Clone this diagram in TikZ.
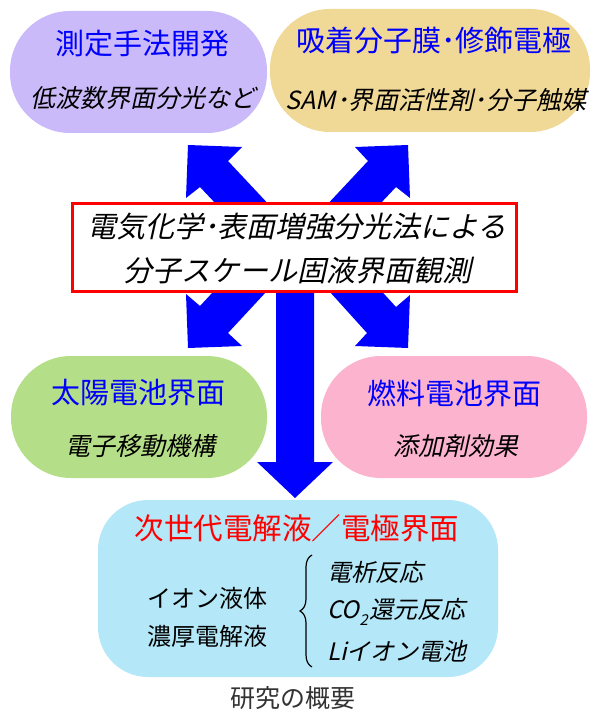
\documentclass[tikz,border=0pt]{standalone}
\usepackage{fontspec}
\setmainfont{Noto Sans CJK JP}
\newfontfamily\jp{Noto Sans CJK JP}
\newfontfamily\jpit[FakeSlant=0.22]{Noto Sans CJK JP}
\usetikzlibrary{decorations.pathreplacing}
\definecolor{cpurple}{HTML}{CBBAF9}
\definecolor{ctan}{HTML}{F0D896}
\definecolor{cgreen}{HTML}{B5DE88}
\definecolor{cpink}{HTML}{FBB3CE}
\definecolor{clblue}{HTML}{B4E7F7}
\definecolor{cblue}{HTML}{0000FF}
\definecolor{cred}{HTML}{FF0000}
\definecolor{ccap}{HTML}{333333}
\tikzset{
  pill/.style={draw=none, inner sep=0pt, rounded corners=60pt},
  ttl/.style={inner sep=0pt, font=\jp\fontsize{29}{31}\selectfont, text=cblue},
  subt/.style={inner sep=0pt, font=\jpit\fontsize{25}{27}\selectfont, text=black},
  body/.style={inner sep=0pt, font=\jp\fontsize{24}{26}\selectfont, text=black, anchor=west},
  itm/.style={inner sep=0pt, font=\jpit\fontsize{24}{26}\selectfont, text=black, anchor=west},
  barrow/.style={fill=cblue, draw=none},
}
\begin{document}
\begin{tikzpicture}[x=1pt,y=-1pt]
\useasboundingbox (0,0) rectangle (594,711);
% arrows
\fill[barrow] (188,145) -- (242,147) -- (228,161) -- (302,240) -- (250,240) -- (200,187) -- (186,198) -- cycle;
\fill[barrow] (408,145) -- (410,198) -- (396,187) -- (346,240) -- (294,240) -- (368,161) -- (355,147) -- cycle;
\fill[barrow] (188,348) -- (186,294) -- (200,306) -- (252,250) -- (305,250) -- (228,333) -- (242,346) -- cycle;
\fill[barrow] (408,348) -- (410,295) -- (396,307) -- (344,250) -- (292,250) -- (367,333) -- (355,346) -- cycle;
\fill[barrow] (276,250) -- (314,250) -- (314,462) -- (333,462) -- (295,498) -- (257,462) -- (276,462) -- cycle;
% boxes
\node[pill, fill=cpurple, minimum width=257pt, minimum height=122pt] (b1) at (138.5,72) {};
\node[pill, fill=ctan, minimum width=320pt, minimum height=123pt] (b2) at (430,70.5) {};
\node[pill, fill=cgreen, minimum width=256pt, minimum height=122pt] (b3) at (139,417) {};
\node[pill, fill=cpink, minimum width=266pt, minimum height=122pt] (b4) at (454,417) {};
\node[pill, fill=clblue, rounded corners=50pt, minimum width=400pt, minimum height=177pt] (b5) at (298,588.5) {};
\node[draw=cred, line width=3.5pt, fill=white, inner sep=0pt, minimum width=444pt, minimum height=88pt] (c) at (294.5,247.5) {};
% texts
\node[ttl] (t1) at (142,44) {測定手法開発};
\node[subt] (s1) at (143,98) {低波数界面分光など};
\node[ttl] (t2) at (434,41) {吸着分子膜･修飾電極};
\node[subt] (s2) at (436,100) {SAM･界面活性剤･分子触媒};
\node[subt, font=\jpit\fontsize{29}{31}\selectfont] (c1) at (297,227) {電気化学･表面増強分光法による};
\node[subt, font=\jpit\fontsize{29}{31}\selectfont] (c2) at (297,271) {分子スケール固液界面観測};
\node[ttl] (t3) at (138,393) {太陽電池界面};
\node[subt] (s3) at (140,446) {電子移動機構};
\node[ttl] (t4) at (454,393) {燃料電池界面};
\node[subt] (s4) at (456,446) {添加剤効果};
\node[ttl, text=cred, font=\jp\fontsize{29.5}{31}\selectfont] (t5) at (297,528) {次世代電解液／電極界面};
\node[body] (l1) at (147,598) {イオン液体};
\node[body] (l2) at (147,636) {濃厚電解液};
\coordinate (bra) at (312,667);
\coordinate (brb) at (312,555);
\draw[line width=1.2pt, decorate, decoration={brace, amplitude=12pt}] (bra) -- (brb);
\node[itm] (r1) at (327,572) {電析反応};
\node[itm] (r2) at (327,612) {CO\raisebox{-0.3em}{\fontsize{15}{15}\selectfont 2}\kern2pt 還元反応};
\node[itm] (r3) at (327,651) {Liイオン電池};
\node[inner sep=0pt, font=\jp\fontsize{25}{27}\selectfont, text=ccap] (cap) at (293,698) {研究の概要};
\end{tikzpicture}
\end{document}
